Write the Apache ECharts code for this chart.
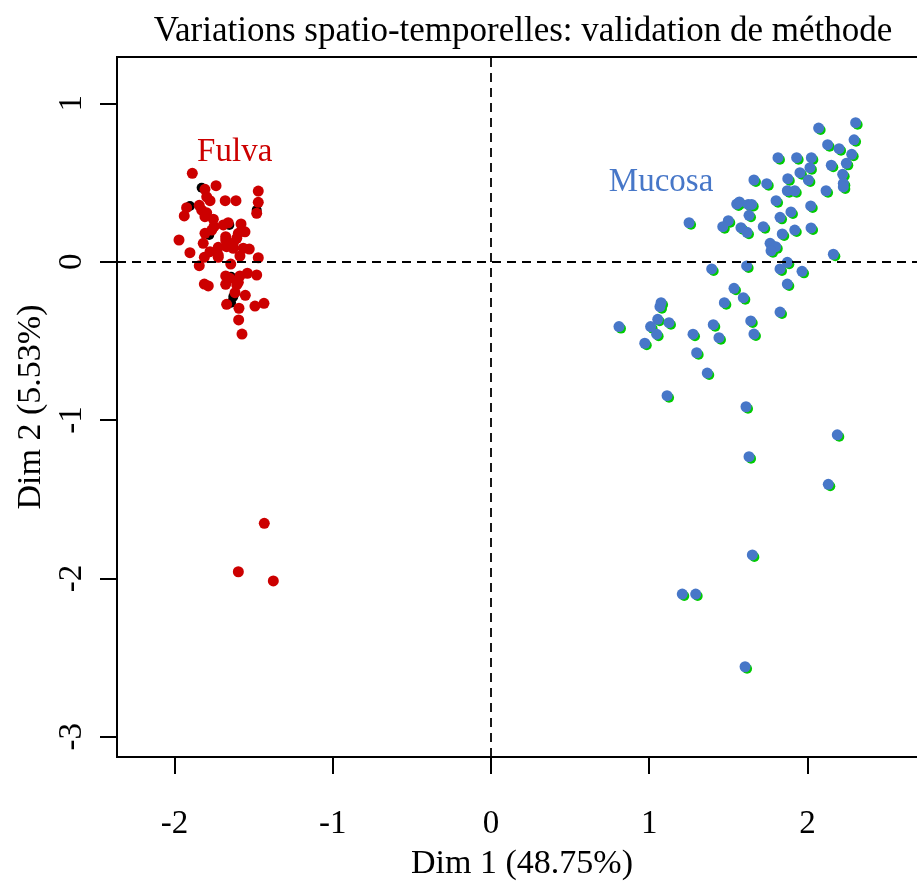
<!DOCTYPE html>
<html>
<head>
<meta charset="utf-8">
<script src="https://cdn.jsdelivr.net/npm/echarts@6/dist/echarts.min.js"></script>
<style>
  html, body { margin: 0; padding: 0; background: #fff; }
  #chart { width: 917px; height: 881px; }
</style>
</head>
<body>
<div id="chart"></div>
<script>
// PCA individuals map: first two dimensions, coloured by tissue group.
const fulvaX = [-1.888,-1.808,-1.738,-1.471,-1.797,-1.776,-1.680,-1.612,-1.471,-1.844,-1.924,-1.829,-1.797,-1.939,-1.481,-1.808,-1.755,-1.661,-1.692,-1.580,-1.751,-1.765,-1.555,-1.597,-1.808,-1.972,-1.677,-1.677,-1.607,-1.819,-1.629,-1.724,-1.671,-1.566,-1.528,-1.629,-1.776,-1.903,-1.724,-1.587,-1.812,-1.724,-1.471,-1.645,-1.844,-1.677,-1.587,-1.540,-1.481,-1.650,-1.597,-1.812,-1.787,-1.677,-1.607,-1.618,-1.553,-1.671,-1.435,-1.492,-1.593,-1.595,-1.574,-1.433,-1.597,-1.376];
const fulvaY = [0.558,0.457,0.480,0.446,0.410,0.385,0.385,0.385,0.375,0.356,0.341,0.326,0.309,0.289,0.306,0.284,0.268,0.246,0.232,0.238,0.221,0.200,0.189,0.179,0.179,0.137,0.158,0.137,0.148,0.116,0.116,0.091,0.095,0.085,0.080,0.085,0.063,0.057,0.042,0.036,0.028,0.028,0.025,-0.015,-0.025,-0.090,-0.090,-0.073,-0.084,-0.105,-0.130,-0.141,-0.153,-0.143,-0.147,-0.196,-0.212,-0.269,-0.263,-0.280,-0.294,-0.368,-0.457,-1.652,-1.958,-2.016];

// Supplementary individuals, mostly hidden under the Fulva cloud
const suppX = [-1.829,-1.781,-1.654,-1.643,-1.629,-1.643,-1.481,-1.903];
const suppY = [0.467,0.169,0.232,-0.095,-0.221,-0.259,0.326,0.352];

const mucosaX = [1.662,1.553,1.570,1.626,1.648,1.252,1.500,1.465,1.631,1.580,1.618,2.305,2.071,2.128,2.295,2.200,2.280,1.814,1.932,2.025,2.151,2.246,1.953,2.016,2.223,1.743,1.876,2.006,2.227,2.227,1.873,1.920,2.118,1.802,2.021,1.896,1.827,1.721,1.841,1.920,2.023,1.764,1.800,1.770,2.164,1.873,1.827,1.966,1.395,1.616,1.536,1.475,1.595,1.075,1.068,1.054,1.125,0.809,1.009,1.047,1.405,1.642,1.662,1.277,1.441,0.972,1.300,1.367,1.113,1.612,1.873,1.827,2.189,1.631,2.132,1.652,1.209,1.294,1.606];
const mucosaY = [0.516,0.364,0.377,0.362,0.362,0.246,0.259,0.221,0.293,0.215,0.186,0.878,0.844,0.739,0.770,0.714,0.678,0.657,0.657,0.657,0.609,0.621,0.562,0.594,0.552,0.493,0.524,0.516,0.495,0.472,0.448,0.448,0.448,0.385,0.352,0.314,0.280,0.221,0.175,0.200,0.213,0.116,0.095,0.069,0.047,-0.004,-0.046,-0.061,-0.046,-0.027,-0.168,-0.259,-0.227,-0.259,-0.284,-0.364,-0.385,-0.410,-0.410,-0.458,-0.398,-0.374,-0.457,-0.458,-0.480,-0.515,-0.575,-0.703,-0.846,-0.916,-0.141,-0.318,-1.093,-1.231,-1.406,-1.852,-2.099,-2.099,-2.558];

const groupNames = ['Fulva', 'Mucosa'];
const groupLabelX = [-1.62, 1.075];
const groupLabelY = [0.69, 0.50];

const xTicks = [-2, -1, 0, 1, 2];
const yTicks = [-3, -2, -1, 0, 1];

const titleText = 'Variations spatio-temporelles: validation de méthode';
const xName = 'Dim 1 (48.75%)';
const yName = 'Dim 2 (5.53%)';

const RED = '#CC0000';
const BLUE = '#4777C8';
const GREEN = '#00CC00';
const FONT = 'Liberation Serif';

const pairs = (xs, ys) => xs.map((x, i) => [x, ys[i]]);

const chart = echarts.init(document.getElementById('chart'), null, { renderer: 'canvas' });

const dashed = { color: '#000', width: 1.8, type: [9, 6] };

chart.setOption({
  animation: false,
  backgroundColor: '#fff',
  title: {
    text: titleText,
    left: 518,
    top: 9,
    textAlign: 'center',
    textStyle: { fontFamily: FONT, fontSize: 35, fontWeight: 'normal', color: '#000' }
  },
  grid: {
    left: 117, top: 57, width: 810, height: 700,
    outerBoundsMode: 'none',
    containLabel: false,
    show: true, borderColor: '#000', borderWidth: 2, backgroundColor: 'transparent'
  },
  xAxis: {
    type: 'value',
    min: -2.364, max: 2.756,
    name: xName, nameLocation: 'middle', nameGap: 90,
    nameTextStyle: { fontFamily: FONT, fontSize: 34, color: '#000' },
    axisLine: { show: false, onZero: false },
    splitLine: { show: false },
    axisTick: { show: true, inside: false, length: 17, customValues: xTicks, lineStyle: { color: '#000', width: 2 } },
    axisLabel: { customValues: xTicks, margin: 51, fontFamily: FONT, fontSize: 33, color: '#000',
      formatter: v => String(v) }
  },
  yAxis: {
    type: 'value',
    min: -3.1279, max: 1.2927,
    name: yName, nameLocation: 'middle', nameGap: 67, nameRotate: 90,
    nameTextStyle: { fontFamily: FONT, fontSize: 34, color: '#000' },
    axisLine: { show: false, onZero: false },
    splitLine: { show: false },
    axisTick: { show: true, inside: false, length: 17, customValues: yTicks, lineStyle: { color: '#000', width: 2 } },
    axisLabel: { customValues: yTicks, rotate: 90, margin: 28, fontFamily: FONT, fontSize: 33, color: '#000',
      formatter: v => String(v) }
  },
  series: [
    {
      type: 'scatter', name: 'axes', data: [], silent: true,
      markLine: {
        symbol: 'none', silent: true, label: { show: false },
        lineStyle: dashed,
        data: [{ xAxis: 0 }, { yAxis: 0 }]
      }
    },
    {
      type: 'scatter', name: 'supp', symbol: 'circle', symbolSize: 10,
      itemStyle: { color: '#000', opacity: 1 }, data: pairs(suppX, suppY)
    },
    {
      type: 'scatter', name: 'Fulva', symbol: 'circle', symbolSize: 11,
      itemStyle: { color: RED, opacity: 1 }, data: pairs(fulvaX, fulvaY)
    },
    {
      type: 'scatter', name: 'MucosaShadow', symbol: 'circle', symbolSize: 10, symbolOffset: [2, 2],
      itemStyle: { color: GREEN, opacity: 1 }, data: pairs(mucosaX, mucosaY)
    },
    {
      type: 'scatter', name: 'Mucosa', symbol: 'circle', symbolSize: 11,
      itemStyle: { color: BLUE, opacity: 1 }, data: pairs(mucosaX, mucosaY)
    },
    {
      type: 'scatter', name: 'groupLabels', symbolSize: 0, silent: true,
      itemStyle: { opacity: 1 },
      data: groupNames.map((n, i) => ({
        value: [groupLabelX[i], groupLabelY[i]],
        label: {
          show: true, position: 'inside', formatter: n, opacity: 1,
          fontFamily: FONT, fontSize: 33, color: i === 0 ? RED : BLUE
        }
      }))
    }
  ]
});
</script>
</body>
</html>
